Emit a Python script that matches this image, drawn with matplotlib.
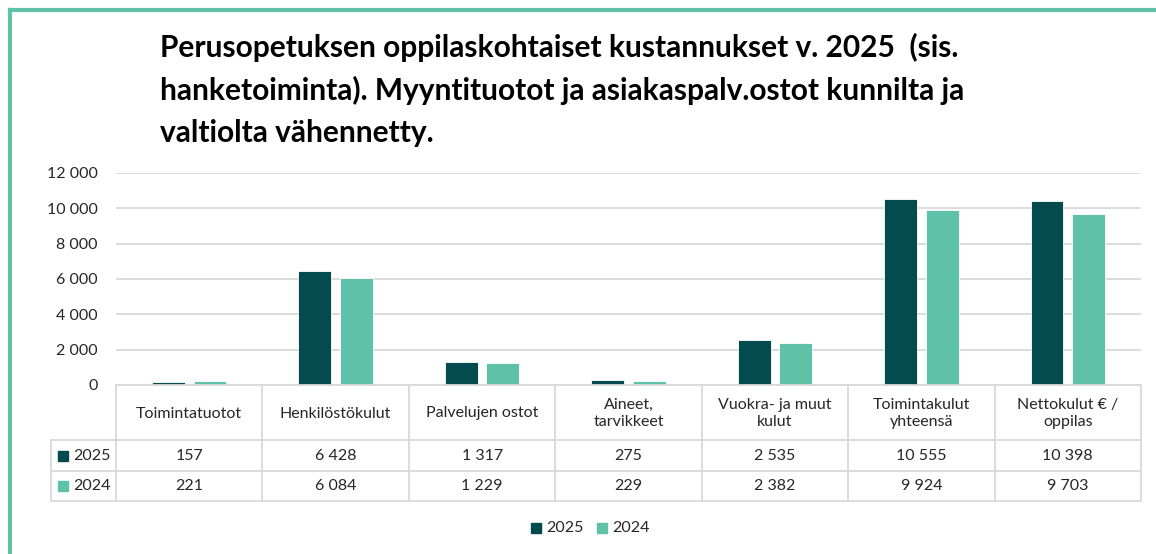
import matplotlib
matplotlib.use("Agg")
import matplotlib.pyplot as plt
from matplotlib.lines import Line2D
from matplotlib.patches import Rectangle
import numpy as np

plt.rcParams["font.family"] = ["Lato", "DejaVu Sans"]

# ---- data -----------------------------------------------------------------
categories = ["Toimintatuotot", "Henkilöstökulut", "Palvelujen ostot",
              "Aineet,\ntarvikkeet", "Vuokra- ja muut\nkulut",
              "Toimintakulut\nyhteensä", "Nettokulut € /\noppilas"]
v2025 = [157, 6428, 1317, 275, 2535, 10555, 10398]
v2024 = [221, 6084, 1229, 229, 2382, 9924, 9703]
series = ["2025", "2024"]
yticks = [0, 2000, 4000, 6000, 8000, 10000, 12000]

# ---- style ----------------------------------------------------------------
DARK = "#034B4E"
LIGHT = "#5FC1A8"
GRID = "#D9D9D9"
INK = "#262626"
W, H = 1156, 554

fig = plt.figure(figsize=(W / 100, H / 100), dpi=100)


def fx(x):
    return x / W


def fy(y):
    return 1 - y / H


def hline(x0, x1, y, c=GRID, lw=1.3):
    fig.add_artist(Line2D([fx(x0), fx(x1)], [fy(y), fy(y)], color=c, lw=lw))


def vline(x, y0, y1, c=GRID, lw=1.3):
    fig.add_artist(Line2D([fx(x), fx(x)], [fy(y0), fy(y1)], color=c, lw=lw))


def fmt(v):
    return f"{v:,}".replace(",", " ")


# outer teal frame (top + left)
fig.add_artist(Line2D([fx(10), 1.0], [fy(10), fy(10)], color=LIGHT, lw=3))
fig.add_artist(Line2D([fx(10), fx(10)], [fy(10), 0.0], color=LIGHT, lw=3))

# title
fig.text(fx(160), fy(33), "Perusopetuksen oppilaskohtaiset kustannukset v. 2025  (sis.\n"
         "hanketoiminta). Myyntituotot ja asiakaspalv.ostot kunnilta ja\n"
         "valtiolta vähennetty.", ha="left", va="top", fontsize=21.5,
         fontweight="bold", color="black", linespacing=1.58)

# ---- bar chart -------------------------------------------------------------
x0, x1, ytop, ybot = 116, 1141, 173, 385
ax = fig.add_axes((fx(x0), fy(ybot), fx(x1 - x0), fy(ytop) - fy(ybot)))
x = np.arange(len(categories))
bw = 0.225
ax.bar(x - 0.142, v2025, bw, color=DARK, edgecolor="white", lw=0.6, zorder=3)
ax.bar(x + 0.142, v2024, bw, color=LIGHT, edgecolor="white", lw=0.6, zorder=3)
ax.set_xlim(-0.5, len(categories) - 0.5)
ax.set_ylim(0, 12000)
ax.set_yticks(yticks)
ax.set_yticklabels([fmt(v) for v in yticks], fontsize=11.5, color=INK)
ax.tick_params(axis="y", length=0, pad=13)
ax.set_xticks([])
ax.grid(axis="y", color=GRID, lw=1.3, zorder=0)
for s in ax.spines.values():
    s.set_visible(False)

# ---- data table -------------------------------------------------------------
colw = (x1 - x0) / len(categories)
r0, r1, r2, r3 = 385, 440, 471, 501
lx = 51
hline(x0, x1, r0)
hline(lx, x1, r1)
hline(lx, x1, r2)
hline(lx, x1, r3)
vline(lx, r1, r3)
for i in range(len(categories) + 1):
    vline(x0 + i * colw, r0, r3)
for i, cat in enumerate(categories):
    cx = x0 + (i + 0.5) * colw
    fig.text(fx(cx), fy((r0 + r1) / 2 + 1), cat, ha="center", va="center",
             fontsize=11.5, color=INK, linespacing=1.35)
    fig.text(fx(cx), fy((r1 + r2) / 2), fmt(v2025[i]), ha="center", va="center",
             fontsize=11.5, color=INK)
    fig.text(fx(cx), fy((r2 + r3) / 2), fmt(v2024[i]), ha="center", va="center",
             fontsize=11.5, color=INK)
for (ya, yb), lab, col in [((r1, r2), series[0], DARK), ((r2, r3), series[1], LIGHT)]:
    yc = (ya + yb) / 2
    fig.add_artist(Rectangle((fx(58), fy(yc + 5)), fx(10), fy(yc - 5) - fy(yc + 5),
                             color=col))
    fig.text(fx(73), fy(yc), lab, ha="left", va="center", fontsize=11.5, color=INK)

# ---- legend ---------------------------------------------------------------
for xl, lab, col in [(531, series[0], DARK), (597, series[1], LIGHT)]:
    fig.add_artist(Rectangle((fx(xl), fy(533)), fx(10), fy(523) - fy(533), color=col))
    fig.text(fx(xl + 15), fy(528), lab, ha="left", va="center", fontsize=11.5, color=INK)

fig.savefig("out.png", dpi=100)
